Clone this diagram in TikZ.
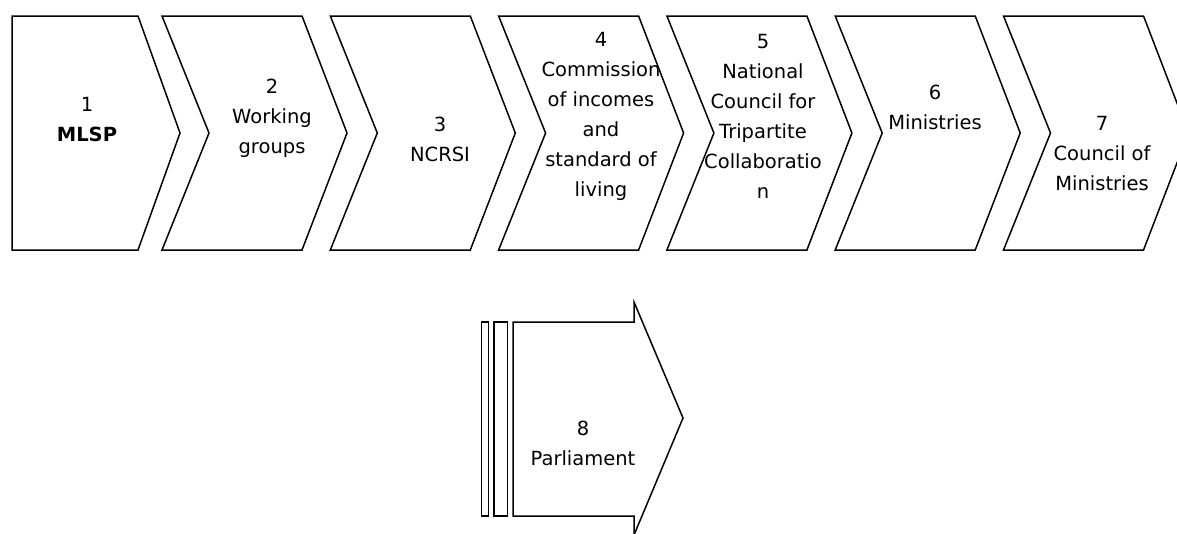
\documentclass[tikz,border=0pt]{standalone}
\usepackage{fontspec}
\setmainfont{DejaVu Sans}
\tikzset{
  stage/.style={draw=black, line width=1.5pt, line join=miter},
  stagetext/.style={align=center, font=\fontsize{19.5}{30}\selectfont, inner sep=0pt}
}
\begin{document}
\begin{tikzpicture}[x=1pt,y=-1pt]
  \path[use as bounding box, clip] (0,0) rectangle (1177,533);
  % first step has a flat back
  \draw[stage] (12,16) -- (138,16) -- (180,133) -- (138,250) -- (12,250) -- cycle;
  % steps 2 to 7
  \foreach \k in {0,...,5}
    \draw[stage] (162+168.3*\k,16) -- ++(140,0) -- ++(45,117) -- ++(-45,117)
      -- ++(-140,0) -- ++(47,-117) -- cycle;
  % last step: bars and arrow
  \draw[stage] (481.7,322) rectangle (488.3,516);
  \draw[stage] (494,322) rectangle (507.3,516);
  \draw[stage] (513,322) -- (634,322) -- (634,302) -- (683,418) -- (634,535)
    -- (634,516) -- (513,516) -- cycle;

  % labels
  \node[stagetext] (mlsp) at (87,120) {1\\\textbf{MLSP}};
  \node[stagetext] (groups) at (272,118) {2\\Working\\groups};
  \node[stagetext] (ncrsi) at (440,139) {3\\NCRSI};
  \node[stagetext] (commission) at (601,116.5) {4\\Commission\\of incomes\\and\\standard of\\living};
  \node[stagetext] (tripartite) at (763,116.5) {5\\National\\Council for\\Tripartite\\Collaboratio\\n};
  \node[stagetext] (ministries) at (935,107) {6\\Ministries};
  \node[stagetext] (council) at (1102,154) {7\\Council of\\Ministries};
  \node[stagetext] (parliament) at (583,443) {8\\Parliament};
\end{tikzpicture}
\end{document}
